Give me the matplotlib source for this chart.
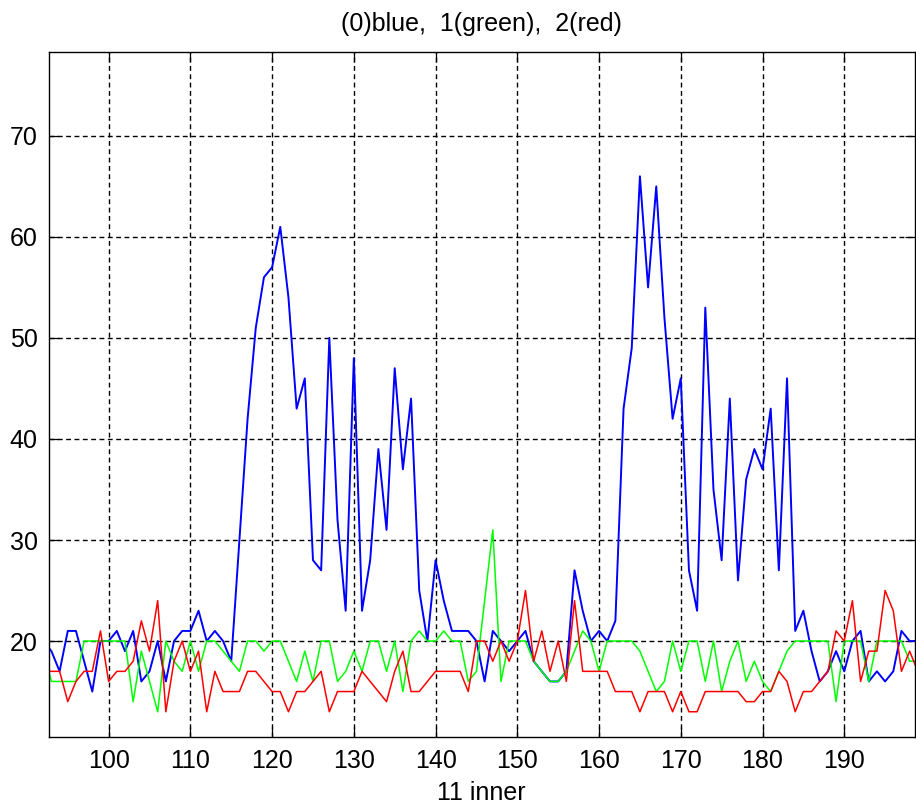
import numpy as np
import matplotlib
matplotlib.use('Agg')
import matplotlib.pyplot as plt

plt.rcParams['font.family'] = ['Liberation Sans', 'DejaVu Sans']

# sample index along the x axis
x_vals = np.arange(92, 200)

# channel 0 (blue)
blue_vals = [20, 19, 17, 21, 21, 18, 15, 20, 20, 21,
             19, 21, 16, 17, 20, 16, 20, 21, 21, 23,
             20, 21, 20, 18, 30, 42, 51, 56, 57, 61,
             54, 43, 46, 28, 27, 50, 32, 23, 48, 23,
             28, 39, 31, 47, 37, 44, 25, 20, 28, 24,
             21, 21, 21, 20, 16, 21, 20, 19, 20, 21,
             18, 17, 16, 16, 17, 27, 23, 20, 21, 20,
             22, 43, 49, 66, 55, 65, 52, 42, 46, 27,
             23, 53, 35, 28, 44, 26, 36, 39, 37, 43,
             27, 46, 21, 23, 19, 16, 17, 19, 17, 20,
             21, 16, 17, 16, 17, 21, 20, 20]

# channel 1 (green)
green_vals = [19, 16, 16, 16, 16, 20, 20, 20, 20, 20,
              20, 14, 19, 16, 13, 20, 18, 17, 20, 17,
              20, 20, 19, 18, 17, 20, 20, 19, 20, 20,
              18, 16, 19, 16, 20, 20, 16, 17, 19, 17,
              20, 20, 17, 20, 15, 20, 21, 20, 20, 21,
              20, 20, 16, 17, 24, 31, 16, 20, 20, 20,
              18, 17, 16, 16, 17, 19, 21, 20, 17, 20,
              20, 20, 20, 19, 17, 15, 16, 20, 17, 20,
              20, 16, 20, 15, 18, 20, 16, 18, 16, 15,
              17, 19, 20, 20, 20, 20, 20, 14, 20, 20,
              20, 16, 20, 20, 20, 20, 18, 18]

# channel 2 (red)
red_vals = [17, 17, 17, 14, 16, 17, 17, 21, 16, 17,
            17, 18, 22, 19, 24, 13, 18, 20, 17, 19,
            13, 17, 15, 15, 15, 17, 17, 16, 15, 15,
            13, 15, 15, 16, 17, 13, 15, 15, 15, 17,
            16, 15, 14, 17, 19, 15, 15, 16, 17, 17,
            17, 17, 15, 20, 20, 18, 20, 18, 20, 25,
            18, 21, 17, 20, 16, 24, 17, 17, 17, 17,
            15, 15, 15, 13, 15, 15, 15, 13, 15, 13,
            13, 15, 15, 15, 15, 15, 14, 14, 15, 15,
            17, 16, 13, 15, 15, 16, 17, 21, 20, 24,
            16, 19, 19, 25, 23, 17, 19, 17]

x_ticks = [100, 110, 120, 130, 140, 150, 160, 170, 180, 190]
y_ticks = [20, 30, 40, 50, 60, 70]


def main():
    fig = plt.figure(figsize=(9.16, 8.09), dpi=100)
    ax = fig.add_axes([0.0532, 0.0896, 0.9452, 0.8461])

    ax.plot(x_vals, blue_vals, color=(0, 0, 1), lw=1.4)
    ax.plot(x_vals, green_vals, color=(0, 1, 0), lw=1.1)
    ax.plot(x_vals, red_vals, color=(1, 0, 0), lw=1.1)

    ax.set_xlim(92.67, 198.6)
    ax.set_ylim(10.55, 78.3)
    ax.set_xticks(x_ticks)
    ax.set_yticks(y_ticks)

    # matlab style dotted grid, ticks inside on all sides
    ax.grid(True, color='k', linestyle=(0, (3.5, 2.5)), linewidth=1.0)
    ax.tick_params(direction='in', length=7, width=0.9, top=True, right=True,
                   labelsize=18, pad=9)
    ax.tick_params(axis='y', pad=8)
    for s in ax.spines.values():
        s.set_linewidth(1.0)

    ax.set_title('(0)blue,  1(green),  2(red)', fontsize=18, pad=15)
    ax.set_xlabel('11 inner', fontsize=18, labelpad=6)

    fig.savefig('out.png', dpi=100)


if __name__ == '__main__':
    main()
